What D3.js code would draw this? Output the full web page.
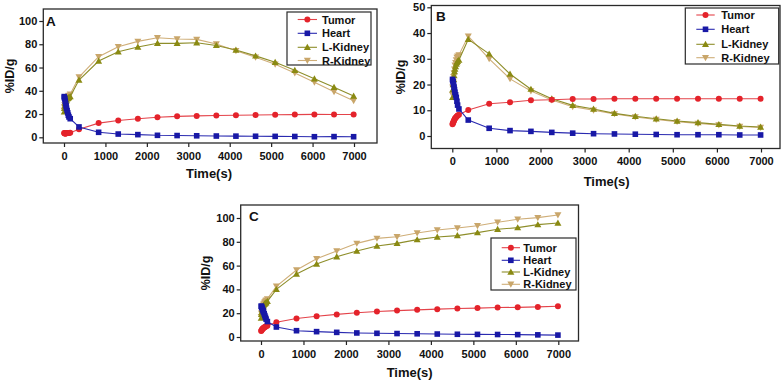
<!DOCTYPE html>
<html><head><meta charset="utf-8">
<script src="https://cdn.jsdelivr.net/npm/d3@7"></script>
<style>body{margin:0;background:#fff}svg{display:block}text{font-family:"Liberation Sans",Arial,sans-serif;font-weight:bold;fill:#111}</style>
</head><body><svg id="c" width="784" height="383"></svg>
<script>
// ---------- data ----------
const seriesNames = ["Tumor", "Heart", "L-Kidney", "R-Kidney"];
const earlyTimes = [5, 10, 20, 30, 40, 50, 60, 75, 90, 105, 120, 150];
const lateTimes = [362, 836, 1309, 1783, 2256, 2730, 3203, 3677, 4150, 4624, 5097, 5571, 6044, 6518, 6991];
const xTicks = [0, 1000, 2000, 3000, 4000, 5000, 6000, 7000];
const yTicksA = [0, 20, 40, 60, 80, 100];
const yTicksB = [0, 10, 20, 30, 40, 50];
const yTicksC = [0, 20, 40, 60, 80, 100];

// Panel A
const tumorA = [3.8, 3.5, 3.3, 3.2, 3.3, 3.4, 3.5, 3.6, 3.6, 3.7, 3.8, 3.9,
  7.0, 12.2, 14.5, 16.0, 17.2, 18.0, 18.4, 18.8, 19.0, 19.2, 19.4, 19.5, 19.7, 19.6, 19.6];
const heartA = [35, 34, 33, 31, 29, 27, 25, 23, 21, 19, 17.5, 16,
  8.9, 4.3, 2.8, 2.3, 1.7, 1.5, 1.3, 1.1, 1.0, 0.9, 0.8, 0.7, 0.5, 0.6, 0.5];
const lKidneyA = [22, 25, 27, 29, 30, 31, 32, 33, 33.5, 34, 34.5, 35,
  49.2, 65.6, 73.6, 77.6, 80.8, 80.8, 81.3, 79.0, 75.0, 70.0, 64.5, 57.6, 50.4, 43.0, 35.5];
const rKidneyA = [23, 26, 28, 30, 31, 32, 33, 34, 35, 35.5, 36, 37,
  51.8, 69.3, 77.9, 82.5, 85.6, 84.5, 84.2, 80.2, 74.5, 68.8, 62.8, 55.3, 47.3, 39.2, 31.5];

// Panel B
const tumorB = [4.6, 4.9, 5.2, 5.6, 6.0, 6.4, 6.8, 7.1, 7.4, 7.7, 8.0, 8.3,
  10.1, 12.5, 13.1, 13.9, 14.1, 14.4, 14.4, 14.5, 14.5, 14.5, 14.5, 14.5, 14.5, 14.5, 14.5];
const heartB = [22, 21.5, 21, 20, 19, 18, 17, 16, 15, 13.5, 12, 10.5,
  6.2, 3.0, 2.1, 1.8, 1.4, 1.1, 0.9, 0.8, 0.7, 0.6, 0.5, 0.5, 0.5, 0.4, 0.4];
const lKidneyB = [15, 18, 20, 22, 23.5, 25, 26, 27, 28, 28.5, 29, 29.5,
  37.6, 31.9, 24.1, 18.2, 14.5, 11.9, 10.5, 8.8, 7.7, 6.7, 5.8, 5.2, 4.5, 3.9, 3.5];
const rKidneyB = [16, 19, 21, 23, 24.5, 26, 27.5, 28.5, 29.5, 30.5, 31, 31.5,
  38.8, 30.0, 22.2, 17.5, 14.0, 11.4, 10.0, 8.6, 7.4, 6.4, 5.6, 4.9, 4.3, 3.7, 3.3];

// Panel C
const tumorC = [5, 5.5, 6, 6.5, 7, 7.3, 7.6, 8, 8.3, 8.6, 9, 9.5,
  12.4, 15.6, 17.4, 19.0, 20.4, 21.4, 22.2, 22.8, 23.4, 24.0, 24.3, 24.8, 24.9, 25.3, 25.8];
const heartC = [26, 25.5, 25, 24, 23, 22, 21, 19.5, 18, 16.5, 15, 13,
  8.4, 5.3, 4.5, 3.9, 3.4, 3.1, 2.9, 2.7, 2.5, 2.3, 2.2, 2.1, 2.0, 1.8, 1.6];
const lKidneyC = [16, 19, 21, 23, 24.5, 25.5, 26.5, 27.5, 28, 28.5, 29, 30,
  40.0, 53.0, 61.3, 67.5, 72.3, 76.5, 78.7, 81.8, 84.0, 85.2, 87.7, 90.5, 91.9, 94.4, 95.8];
const rKidneyC = [17, 20, 22, 24, 25.5, 26.5, 27.5, 28.5, 29.5, 30, 31, 32,
  42.6, 56.3, 65.8, 72.3, 78.7, 82.9, 84.3, 87.4, 89.9, 91.6, 93.5, 96.4, 98.9, 100.3, 102.5];

// ---------- styling / layout ----------
const colors = {"Tumor": "#e4232b", "Heart": "#1818a6", "L-Kidney": "#8a8a12", "R-Kidney": "#c9a66a"};
const lineColors = {"Tumor": "#e4434a", "Heart": "#2a2ab0", "L-Kidney": "#8e8e2a", "R-Kidney": "#cfae78"};
const shapes = {"Tumor": "circle", "Heart": "square", "L-Kidney": "up", "R-Kidney": "down"};
const times = earlyTimes.concat(lateTimes);

const panels = [
  {label: "A", series: [tumorA, heartA, lKidneyA, rKidneyA], yTicks: yTicksA,
   frame: {l: 43.3, t: 9, r: 377, b: 143}, x0: 64, x7: 354, y0: 137.3, yTop: 21, yTopVal: 100,
   ylabX: 9, xlabY: 178, letter: [46, 26],
   legend: {x0: 287, y0: 12, x1: 371, y1: 65, rows: [19.5, 33.3, 47.3, 60.5], l0: 297.7, l1: 317, tx: 322}},
  {label: "B", series: [tumorB, heartB, lKidneyB, rKidneyB], yTicks: yTicksB,
   frame: {l: 431.3, t: 5.5, r: 780, b: 148.5}, x0: 452.3, x7: 761, y0: 136, yTop: 7.3, yTopVal: 50,
   ylabX: 400, xlabY: 186, letter: [436, 21],
   legend: {x0: 685.3, y0: 8, x1: 778.7, y1: 64, rows: [15, 29.3, 44.3, 57.7], l0: 696.3, l1: 714.7, tx: 721.3}},
  {label: "C", series: [tumorC, heartC, lKidneyC, rKidneyC], yTicks: yTicksC,
   frame: {l: 240.7, t: 205, r: 578.5, b: 341}, x0: 261, x7: 558.3, y0: 337, yTop: 218, yTopVal: 100,
   ylabX: 205, xlabY: 377, letter: [249, 221],
   legend: {x0: 491, y0: 238, x1: 576, y1: 290, rows: [247.7, 260.3, 272, 284.3], l0: 501.7, l1: 520, tx: 523.3}}
];

const svg = d3.select("#c");

function marker(g, shape, cx, cy, color) {
  if (shape === "circle") {
    g.append("circle").attr("cx", cx).attr("cy", cy).attr("r", 3).attr("fill", color);
  } else if (shape === "square") {
    g.append("rect").attr("x", cx - 2.8).attr("y", cy - 2.8).attr("width", 5.6).attr("height", 5.6).attr("fill", color);
  } else if (shape === "up") {
    g.append("path").attr("d", `M${cx},${cy - 3.5}L${cx + 3.5},${cy + 2.7}L${cx - 3.5},${cy + 2.7}Z`).attr("fill", color);
  } else {
    g.append("path").attr("d", `M${cx},${cy + 3.5}L${cx + 3.5},${cy - 2.7}L${cx - 3.5},${cy - 2.7}Z`).attr("fill", color);
  }
}

panels.forEach(p => {
  const g = svg.append("g");
  const f = p.frame;
  const x = d3.scaleLinear().domain([0, 7000]).range([p.x0, p.x7]);
  const y = d3.scaleLinear().domain([0, p.yTopVal]).range([p.y0, p.yTop]);

  const cid = "clip" + p.label;
  svg.append("clipPath").attr("id", cid).append("rect")
    .attr("x", f.l).attr("y", f.t).attr("width", f.r - f.l).attr("height", f.b - f.t);

  const yAxis = d3.axisLeft(y).tickValues(p.yTicks).tickSize(4).tickPadding(2).tickFormat(d3.format("d"));
  const ya = g.append("g").attr("transform", `translate(${f.l},0)`).call(yAxis);
  const xAxis = d3.axisBottom(x).tickValues(xTicks).tickSize(4).tickPadding(5).tickFormat(d3.format("d"));
  const xa = g.append("g").attr("transform", `translate(0,${f.b})`).call(xAxis);
  [ya, xa].forEach(a => {
    a.select(".domain").remove();
    a.selectAll(".tick line").attr("stroke", "#222").attr("stroke-width", 1.2);
    a.selectAll(".tick text").attr("font-size", 11).attr("font-weight", "bold")
      .attr("font-family", "Liberation Sans, Arial, sans-serif").attr("fill", "#111");
  });

  const plot = g.append("g").attr("clip-path", `url(#${cid})`);
  const order = [3, 2, 0, 1];
  order.forEach(i => {
    const name = seriesNames[i];
    const vals = p.series[i];
    const pts = times.map((t, k) => [t, vals[k]]);
    const line = d3.line().x(d => x(d[0])).y(d => y(d[1]));
    plot.append("path").attr("d", line(pts)).attr("fill", "none")
      .attr("stroke", lineColors[name]).attr("stroke-width", 1.1);
    const mg = plot.append("g");
    pts.forEach(d => marker(mg, shapes[name], x(d[0]), y(d[1]), colors[name]));
  });

  g.append("rect").attr("x", f.l).attr("y", f.t).attr("width", f.r - f.l).attr("height", f.b - f.t)
    .attr("fill", "none").attr("stroke", "#2a2a2a").attr("stroke-width", 1.3);

  g.append("text").attr("x", p.letter[0]).attr("y", p.letter[1]).attr("font-size", 13.5).text(p.label);

  g.append("text").attr("transform", `translate(${p.ylabX + 4.5},${(f.t + f.b) / 2}) rotate(-90)`)
    .attr("text-anchor", "middle").attr("font-size", 12.5).text("%ID/g");
  g.append("text").attr("x", (p.x0 + p.x7) / 2).attr("y", p.xlabY)
    .attr("text-anchor", "middle").attr("font-size", 13).text("Time(s)");

  const L = p.legend;
  g.append("rect").attr("x", L.x0).attr("y", L.y0).attr("width", L.x1 - L.x0).attr("height", L.y1 - L.y0)
    .attr("fill", "#fff").attr("stroke", "#2a2a2a").attr("stroke-width", 1.2);
  seriesNames.forEach((name, i) => {
    const yy = L.rows[i];
    g.append("line").attr("x1", L.l0).attr("x2", L.l1).attr("y1", yy).attr("y2", yy)
      .attr("stroke", lineColors[name]).attr("stroke-width", 1.1);
    marker(g, shapes[name], (L.l0 + L.l1) / 2, yy, colors[name]);
    g.append("text").attr("x", L.tx).attr("y", yy + 4).attr("font-size", 11).text(name);
  });
});
</script></body></html>
